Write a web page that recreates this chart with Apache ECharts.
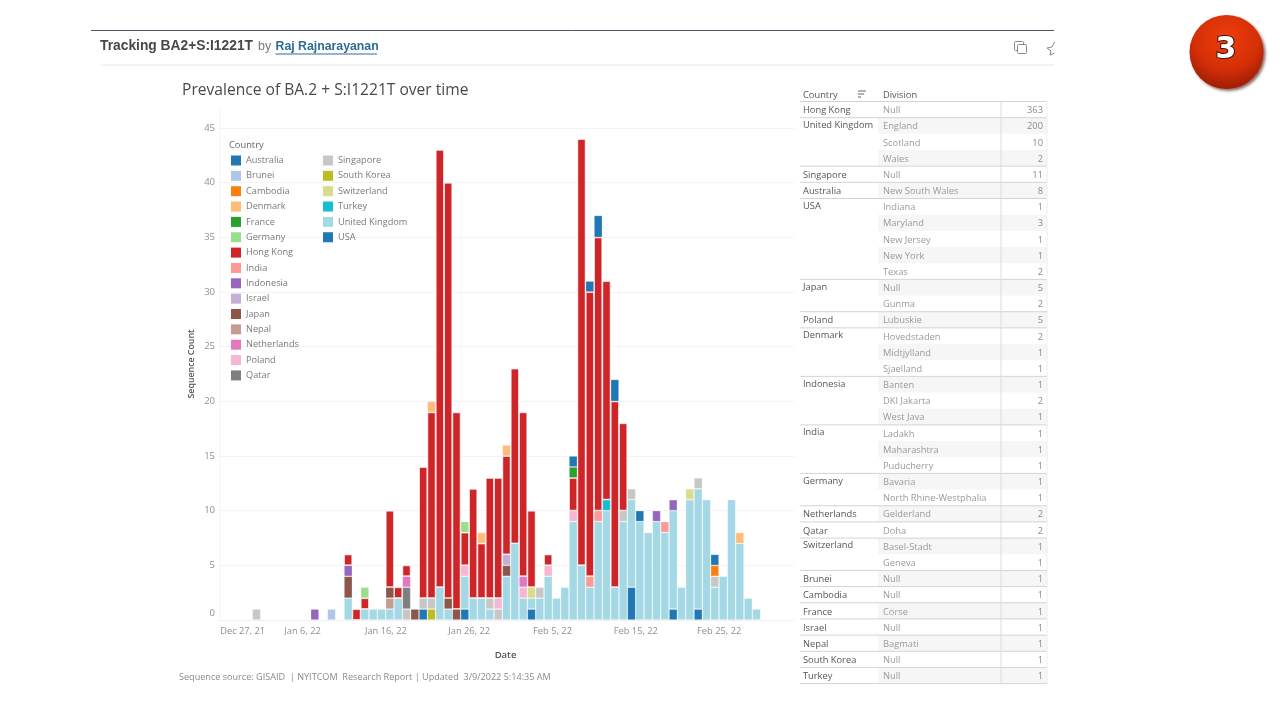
<!DOCTYPE html>
<html><head><meta charset="utf-8"><title>Tracking BA2+S:I1221T</title>
<script src="https://cdn.jsdelivr.net/npm/echarts@6/dist/echarts.min.js"></script>
<style>html,body{margin:0;padding:0;background:#fff}#c{width:1280px;height:720px}</style></head>
<body><div id="c"></div>
<script>
const dates = ['Dec 27, 21','Dec 28, 21','Dec 29, 21','Dec 30, 21','Dec 31, 21',
'Jan 1, 22','Jan 2, 22','Jan 3, 22','Jan 4, 22','Jan 5, 22','Jan 6, 22','Jan 7, 22','Jan 8, 22','Jan 9, 22','Jan 10, 22','Jan 11, 22','Jan 12, 22','Jan 13, 22','Jan 14, 22','Jan 15, 22','Jan 16, 22','Jan 17, 22','Jan 18, 22','Jan 19, 22','Jan 20, 22','Jan 21, 22','Jan 22, 22','Jan 23, 22','Jan 24, 22','Jan 25, 22','Jan 26, 22','Jan 27, 22','Jan 28, 22','Jan 29, 22','Jan 30, 22','Jan 31, 22',
'Feb 1, 22','Feb 2, 22','Feb 3, 22','Feb 4, 22','Feb 5, 22','Feb 6, 22','Feb 7, 22','Feb 8, 22','Feb 9, 22','Feb 10, 22','Feb 11, 22','Feb 12, 22','Feb 13, 22','Feb 14, 22','Feb 15, 22','Feb 16, 22','Feb 17, 22','Feb 18, 22','Feb 19, 22','Feb 20, 22','Feb 21, 22','Feb 22, 22','Feb 23, 22','Feb 24, 22','Feb 25, 22','Feb 26, 22','Feb 27, 22','Feb 28, 22',
'Mar 1, 22','Mar 2, 22','Mar 3, 22','Mar 4, 22','Mar 5, 22'];
const tickDates = ['Dec 27, 21','Jan 6, 22','Jan 16, 22','Jan 26, 22','Feb 5, 22','Feb 15, 22','Feb 25, 22'];

const australia   = [0,0,0,0,0,0,0,0,0,0, 0,0,0,0,0,0,0,0,0,0, 0,0,0,0,1,0,0,0,0,1, 0,0,0,0,0,0,0,1,0,0, 0,0,0,0,0,0,0,0,0,3, 0,0,0,0,1,0,0,1,0,0, 0,0,0,0,0];
const southKorea  = [0,0,0,0,0,0,0,0,0,0, 0,0,0,0,0,0,0,0,0,0, 0,0,0,0,0,1,0,0,0,0, 0,0,0,0,0,0,0,0,0,0, 0,0,0,0,0,0,0,0,0,0, 0,0,0,0,0,0,0,0,0,0, 0,0,0,0,0];
const unitedKingdom=[0,0,0,0,0,0,0,0,0,0, 0,0,0,0,0,2,0,1,1,1, 1,2,0,0,0,0,3,1,0,3, 2,2,1,0,4,7,2,1,2,4, 2,3,9,5,3,9,10,3,9,8, 9,8,9,8,9,3,11,11,11,3, 4,11,7,2,1];
const singapore   = [0,0,0,0,1,0,0,0,0,0, 0,0,0,0,0,0,0,0,0,0, 0,0,1,0,1,1,0,0,0,0, 0,0,1,1,0,0,0,0,1,0, 0,0,0,0,0,0,0,0,1,1, 0,0,0,0,0,0,0,1,0,1, 0,0,0,0,0];
const nepal       = [0,0,0,0,0,0,0,0,0,0, 0,0,0,0,0,0,0,0,0,0, 1,0,0,0,0,0,0,0,0,0, 0,0,0,0,0,0,0,0,0,0, 0,0,0,0,0,0,0,0,0,0, 0,0,0,0,0,0,0,0,0,0, 0,0,0,0,0];
const qatar       = [0,0,0,0,0,0,0,0,0,0, 0,0,0,0,0,0,0,0,0,0, 0,0,2,0,0,0,0,0,0,0, 0,0,0,0,0,0,0,0,0,0, 0,0,0,0,0,0,0,0,0,0, 0,0,0,0,0,0,0,0,0,0, 0,0,0,0,0];
const japan       = [0,0,0,0,0,0,0,0,0,0, 0,0,0,0,0,2,0,0,0,0, 1,0,0,1,0,0,0,1,1,0, 0,0,0,0,1,0,0,0,0,0, 0,0,0,0,0,0,0,0,0,0, 0,0,0,0,0,0,0,0,0,0, 0,0,0,0,0];
const israel      = [0,0,0,0,0,0,0,0,0,0, 0,0,0,0,0,0,0,0,0,0, 0,0,0,0,0,0,0,0,0,0, 0,0,0,0,1,0,0,0,0,0, 0,0,0,0,0,0,0,0,0,0, 0,0,0,0,0,0,0,0,0,0, 0,0,0,0,0];
const poland      = [0,0,0,0,0,0,0,0,0,0, 0,0,0,0,0,0,0,0,0,0, 0,0,0,0,0,0,0,0,0,1, 0,0,0,1,0,0,1,0,0,1, 0,0,1,0,0,0,0,0,0,0, 0,0,0,0,0,0,0,0,0,0, 0,0,0,0,0];
const netherlands = [0,0,0,0,0,0,0,0,0,0, 0,0,0,0,0,0,0,0,0,0, 0,0,1,0,0,0,0,0,0,0, 0,0,0,0,0,0,1,0,0,0, 0,0,0,0,0,0,0,0,0,0, 0,0,0,0,0,0,0,0,0,0, 0,0,0,0,0];
const indonesia   = [0,0,0,0,0,0,0,0,0,0, 0,1,0,0,0,1,0,0,0,0, 0,0,0,0,0,0,0,0,0,0, 0,0,0,0,0,0,0,0,0,0, 0,0,0,0,0,0,0,0,0,0, 0,0,1,0,1,0,0,0,0,0, 0,0,0,0,0];
const brunei      = [0,0,0,0,0,0,0,0,0,0, 0,0,0,1,0,0,0,0,0,0, 0,0,0,0,0,0,0,0,0,0, 0,0,0,0,0,0,0,0,0,0, 0,0,0,0,0,0,0,0,0,0, 0,0,0,0,0,0,0,0,0,0, 0,0,0,0,0];
const india       = [0,0,0,0,0,0,0,0,0,0, 0,0,0,0,0,0,0,0,0,0, 0,0,0,0,0,0,0,0,0,0, 0,0,0,0,0,0,0,0,0,0, 0,0,0,0,1,1,0,0,0,0, 0,0,0,1,0,0,0,0,0,0, 0,0,0,0,0];
const switzerland = [0,0,0,0,0,0,0,0,0,0, 0,0,0,0,0,0,0,0,0,0, 0,0,0,0,0,0,0,0,0,0, 0,0,0,0,0,0,0,1,0,0, 0,0,0,0,0,0,0,0,0,0, 0,0,0,0,0,0,1,0,0,0, 0,0,0,0,0];
const turkey      = [0,0,0,0,0,0,0,0,0,0, 0,0,0,0,0,0,0,0,0,0, 0,0,0,0,0,0,0,0,0,0, 0,0,0,0,0,0,0,0,0,0, 0,0,0,0,0,0,1,0,0,0, 0,0,0,0,0,0,0,0,0,0, 0,0,0,0,0];
const hongKong    = [0,0,0,0,0,0,0,0,0,0, 0,0,0,0,0,1,1,1,0,0, 7,1,1,0,12,17,40,38,18,3, 10,5,11,11,9,16,15,7,0,1, 0,0,3,39,26,25,20,17,8,0, 0,0,0,0,0,0,0,0,0,0, 0,0,0,0,0];
const cambodia    = [0,0,0,0,0,0,0,0,0,0, 0,0,0,0,0,0,0,0,0,0, 0,0,0,0,0,0,0,0,0,0, 0,0,0,0,0,0,0,0,0,0, 0,0,0,0,0,0,0,0,0,0, 0,0,0,0,0,0,0,0,0,1, 0,0,0,0,0];
const france      = [0,0,0,0,0,0,0,0,0,0, 0,0,0,0,0,0,0,0,0,0, 0,0,0,0,0,0,0,0,0,0, 0,0,0,0,0,0,0,0,0,0, 0,0,1,0,0,0,0,0,0,0, 0,0,0,0,0,0,0,0,0,0, 0,0,0,0,0];
const germany     = [0,0,0,0,0,0,0,0,0,0, 0,0,0,0,0,0,0,1,0,0, 0,0,0,0,0,0,0,0,0,1, 0,0,0,0,0,0,0,0,0,0, 0,0,0,0,0,0,0,0,0,0, 0,0,0,0,0,0,0,0,0,0, 0,0,0,0,0];
const denmark     = [0,0,0,0,0,0,0,0,0,0, 0,0,0,0,0,0,0,0,0,0, 0,0,0,0,0,1,0,0,0,0, 0,1,0,0,1,0,0,0,0,0, 0,0,0,0,0,0,0,0,0,0, 0,0,0,0,0,0,0,0,0,0, 0,0,1,0,0];
const usa         = [0,0,0,0,0,0,0,0,0,0, 0,0,0,0,0,0,0,0,0,0, 0,0,0,0,0,0,0,0,0,0, 0,0,0,0,0,0,0,0,0,0, 0,0,1,0,1,2,0,2,0,0, 1,0,0,0,0,0,0,0,0,1, 0,0,0,0,0];

const legendLeft  = ['Australia','Brunei','Cambodia','Denmark','France','Germany','Hong Kong','India','Indonesia','Israel','Japan','Nepal','Netherlands','Poland','Qatar'];
const legendRight = ['Singapore','South Korea','Switzerland','Turkey','United Kingdom','USA'];

const tableCountry = ['Hong Kong','United Kingdom','','','Singapore','Australia','USA','','','','','Japan','','Poland','Denmark','','','Indonesia','','','India','','','Germany','','Netherlands','Qatar','Switzerland','','Brunei','Cambodia','France','Israel','Nepal','South Korea','Turkey'];
const tableDivision = ['Null','England','Scotland','Wales','Null','New South Wales','Indiana','Maryland','New Jersey','New York','Texas','Null','Gunma','Lubuskie','Hovedstaden','Midtjylland','Sjaelland','Banten','DKI Jakarta','West Java','Ladakh','Maharashtra','Puducherry','Bavaria','North Rhine-Westphalia','Gelderland','Doha','Basel-Stadt','Geneva','Null','Null','Corse','Null','Bagmati','Null','Null'];
const tableCount = [363,200,10,2,11,8,1,3,1,1,2,5,2,5,2,1,1,1,2,1,1,1,1,1,1,2,2,1,1,1,1,1,1,1,1,1];

const FONT = '"Open Sans","Noto Sans",sans-serif';
const stackSeries = [
 ['Australia',australia,'#1f77b4'],['South Korea',southKorea,'#bcbd22'],['United Kingdom',unitedKingdom,'#a5d8e5'],
 ['Singapore',singapore,'#c7c7c7'],['Nepal',nepal,'#c49c94'],['Qatar',qatar,'#7f7f7f'],['Japan',japan,'#8c564b'],
 ['Israel',israel,'#c5b0d5'],['Poland',poland,'#f7b6d2'],['Netherlands',netherlands,'#e377c2'],['Indonesia',indonesia,'#9467bd'],
 ['Brunei',brunei,'#aec7e8'],['India',india,'#ff9896'],['Switzerland',switzerland,'#dbdb8d'],['Turkey',turkey,'#17becf'],
 ['Hong Kong',hongKong,'#ce2529'],['Cambodia',cambodia,'#ff7f0e'],['France',france,'#2ca02c'],['Germany',germany,'#98df8a'],
 ['Denmark',denmark,'#ffbb78'],['USA',usa,'#1f77b4']
];

const g = [];
const txt = (text,x,y,size,fill,extra={}) => g.push({type:'text',x,y,silent:true,z:50,style:Object.assign({text,fill,font:`${extra.weight||'normal'} ${size}px ${extra.family||FONT}`,align:extra.align||'left',verticalAlign:'middle'},extra.style||{})});
const line = (x1,y1,x2,y2,stroke,w=1,z=5) => g.push({type:'line',silent:true,z,shape:{x1,y1,x2,y2},style:{stroke,lineWidth:w}});

// page header
line(91,30.5,1054,30.5,'#4b5563',1);
line(101,65,1054,65,'#e8e8e8',1);
txt('Tracking BA2+S:I1221T',100,46.5,13.8,'#45494d',{weight:'bold',family:'"Liberation Sans",sans-serif'});
txt('by',258,47,12.5,'#7a7a7a',{family:'"Liberation Sans",sans-serif'});
txt('Raj Rajnarayanan',275.5,47,12.3,'#2f6c96',{weight:'bold',family:'"Liberation Sans",sans-serif'});
line(275.5,54,377,54,'#2f6c96',1);
g.push({type:'rect',silent:true,z:20,shape:{x:1014.5,y:41.5,width:9,height:9,r:1},style:{fill:'#fff',stroke:'#8a8a8a',lineWidth:1}});
g.push({type:'rect',silent:true,z:21,shape:{x:1017.5,y:44.5,width:9,height:9,r:1},style:{fill:'#fff',stroke:'#8a8a8a',lineWidth:1}});
g.push({type:'polyline',silent:true,z:20,shape:{points:[[1054.5,42],[1052,47],[1047,48],[1051,51],[1050,55],[1054.5,53]]},style:{fill:'none',stroke:'#8a8a8a',lineWidth:1}});

// badge
g.push({type:'circle',silent:true,z:30,shape:{cx:1226.5,cy:52,r:37},style:{
  fill:{type:'radial',x:.5,y:.3,r:.8,colorStops:[{offset:0,color:'#ee3d0c'},{offset:.55,color:'#d42f07'},{offset:1,color:'#8a1604'}]},
  shadowBlur:3,shadowOffsetX:2,shadowOffsetY:2,shadowColor:'rgba(90,40,30,.7)'}});
g.push({type:'text',x:1226,y:50,silent:true,z:31,style:{text:'3',fill:'#fff',font:'bold 30px "DejaVu Sans",sans-serif',align:'center',verticalAlign:'middle',stroke:'#3a1206',lineWidth:2}});

// chart furniture
txt('Prevalence of BA.2 + S:I1221T over time',182,90.5,15.6,'#4a4a4a');
txt('Country',229,145,9.3,'#666');
line(220,108,220,620,'#f3f3f3',1,0);
txt('Sequence source: GISAID  | NYITCOM  Research Report | Updated  3/9/2022 5:14:35 AM',179,677,9.1,'#8a8a8a');

// table
const rowTop = 101.5, rowH = 16.17, tLeft = 800, tDiv = 878, tVal = 1001, tRight = 1047;
txt('Country',803,95.5,9.3,'#555'); txt('Division',883,95.5,9.3,'#555');
line(858,91,866,91,'#666',1); line(858,94,864,94,'#666',1); line(858,97,861,97,'#666',1);
line(tLeft,rowTop,tRight,rowTop,'#d4d4d4',1);
tableCount.forEach((n,i)=>{
  const y = rowTop + i*rowH, mid = y + rowH/2 + 1;
  if(i%2===1) g.push({type:'rect',silent:true,z:1,shape:{x:tDiv,y,width:tRight-tDiv,height:rowH},style:{fill:'#f6f6f6'}});
  if(tableCountry[i]){
    if(i>0) line(tLeft,y,tRight,y,'#d4d4d4',1);
    txt(tableCountry[i],803,tableDivision[i+1]&&!tableCountry[i+1]?mid-1.5:mid,9.3,'#555');
  }
  txt(tableDivision[i],883,mid,9.3,'#9a9a9a');
  txt(String(n),1043,mid,9.3,'#8a8a8a',{align:'right'});
});
const tBottom = rowTop + tableCount.length*rowH;
line(tLeft,tBottom,tRight,tBottom,'#d4d4d4',1);
line(tVal,rowTop,tVal,tBottom,'#dcdcdc',1);
line(tRight,rowTop,tRight,tBottom,'#eeeeee',1);

const legendBase = {selectedMode:false,orient:'vertical',icon:'rect',itemWidth:10,itemHeight:10,itemGap:5.35,itemStyle:{borderWidth:0},
  textStyle:{fontFamily:FONT,fontSize:9.2,color:'#7a7a7a'},padding:0};

const chart = echarts.init(document.getElementById('c'));
chart.setOption({
  animation:false,backgroundColor:'#fff',textStyle:{fontFamily:FONT},
  legend:[Object.assign({},legendBase,{left:231,top:155.5,data:legendLeft}),Object.assign({},legendBase,{left:323,top:155.5,data:legendRight})],
  grid:{left:219,top:128,width:575,height:492,containLabel:false},
  xAxis:{type:'category',data:dates,boundaryGap:true,name:'Date',nameLocation:'middle',nameGap:30,
    nameTextStyle:{fontFamily:FONT,fontSize:9.5,color:'#555',fontWeight:600,padding:[0,2,0,0]},
    axisLine:{lineStyle:{color:'#efefef'}},axisTick:{show:false},splitLine:{show:false},
    axisLabel:{interval:(i,v)=>tickDates.includes(v),hideOverlap:false,margin:7,
      formatter:v=>v===tickDates[0]?'{f|'+v+'}':'{n|'+v+'}',
      rich:{f:{fontFamily:FONT,fontSize:9.3,color:'#8f8f8f',padding:[0,0,0,39]},n:{fontFamily:FONT,fontSize:9.3,color:'#8f8f8f',padding:[0,8,0,0]}}}},
  yAxis:{type:'value',min:0,max:45,interval:5,name:'Sequence Count',nameLocation:'middle',nameGap:23,
    nameTextStyle:{fontFamily:FONT,fontSize:8.8,color:'#555',fontWeight:600,padding:[0,0,0,20]},
    axisLine:{show:false},axisTick:{show:false},splitLine:{lineStyle:{color:'#f3f3f3'}},
    axisLabel:{margin:4,formatter:v=>v===0?'{z|0}':'{n|'+v+'}',
      rich:{z:{fontFamily:FONT,fontSize:9.5,color:'#8f8f8f',padding:[0,0,14,0]},n:{fontFamily:FONT,fontSize:9.5,color:'#8f8f8f'}}}},
  series:stackSeries.map(([name,vals,color])=>({name,type:'bar',stack:'cases',barCategoryGap:'0%',silent:true,
    itemStyle:{color,borderColor:name==='Hong Kong'?'rgba(255,255,255,.6)':'rgba(255,255,255,.35)',borderWidth:name==='Hong Kong'?1:.7},
    data:vals.map(v=>v>0?v:null)})),
  graphic:{elements:g}
});
</script></body></html>
